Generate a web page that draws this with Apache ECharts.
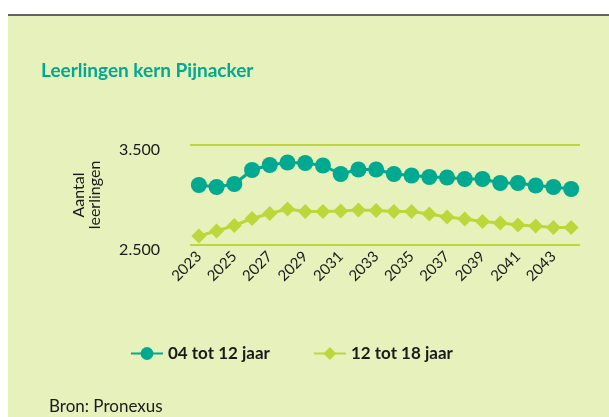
<!DOCTYPE html>
<html>
<head>
<meta charset="utf-8">
<script src="https://cdn.jsdelivr.net/npm/echarts@6/dist/echarts.min.js"></script>
<style>
  html, body { margin: 0; padding: 0; background: #fff; }
  #chart { width: 609px; height: 417px; }
</style>
</head>
<body>
<div id="chart"></div>
<script>
// jaren 2023 t/m 2044
const years = ['2023','2024','2025','2026','2027','2028','2029','2030','2031','2032','2033',
  '2034','2035','2036','2037','2038','2039','2040','2041','2042','2043','2044']
const basis = [3100,3080,3110,3250,3300,3325,3320,3295,3210,3255,3255,
  3210,3195,3180,3175,3160,3160,3120,3120,3095,3080,3060]
const voortgezet = [2590,2640,2695,2765,2815,2860,2835,2835,2840,2850,2845,
  2835,2835,2810,2780,2760,2735,2720,2700,2690,2675,2675]
const seriesNames = ['04 tot 12 jaar', '12 tot 18 jaar']

const teal = '#00A98F'
const lime = '#BDD73A'
const font = 'Lato, "Open Sans", sans-serif'

const myChart = echarts.init(document.getElementById('chart'))

const option = {
  backgroundColor: '#fff',
  textStyle: { fontFamily: font },
  graphic: [
    { type: 'rect', z: -10, shape: { x: 8, y: 15, width: 601, height: 402 }, style: { fill: '#E6F1BC' } },
    { type: 'line', z: -5, shape: { x1: 8, y1: 15, x2: 609, y2: 15 }, style: { stroke: '#333', lineWidth: 1.5 } },
    { type: 'text', left: 41, top: 61, style: { text: 'Leerlingen kern Pijnacker', fill: teal, font: 'bold 19px ' + font } },
    { type: 'text', left: 49, top: 398, style: { text: 'Bron: Pronexus', fill: '#1a1a1a', font: '17px ' + font } }
  ],
  grid: { left: 190, right: 29, top: 145, bottom: 172, containLabel: false },
  legend: {
    left: 125,
    top: 340,
    itemWidth: 32,
    itemHeight: 16,
    itemGap: 43,
    textStyle: { fontSize: 17, fontWeight: 'bold', color: '#1a1a1a', fontFamily: font },
    data: seriesNames
  },
  xAxis: {
    type: 'category',
    data: years,
    boundaryGap: true,
    axisLine: { show: false },
    axisTick: { show: false },
    axisLabel: { interval: 1, rotate: 45, fontSize: 15, color: '#1a1a1a', margin: 9 }
  },
  yAxis: {
    type: 'value',
    min: 2500,
    max: 3500,
    interval: 1000,
    name: 'Aantal\nleerlingen',
    nameLocation: 'middle',
    nameRotate: 90,
    nameGap: 87,
    nameTextStyle: { fontSize: 16, color: '#1a1a1a', lineHeight: 16 },
    axisLine: { show: false },
    axisTick: { show: false },
    axisLabel: {
      fontSize: 16,
      color: '#1a1a1a',
      margin: 30,
      verticalAlign: 'top',
      lineHeight: 10,
      formatter: v => v.toLocaleString('de-DE')
    },
    splitLine: { lineStyle: { color: lime, width: 2 } }
  },
  series: [
    {
      name: seriesNames[0],
      type: 'line',
      data: basis,
      symbol: 'circle',
      symbolSize: 16,
      showAllSymbol: true,
      lineStyle: { color: teal, width: 3 },
      itemStyle: { color: teal }
    },
    {
      name: seriesNames[1],
      type: 'line',
      data: voortgezet,
      symbol: 'diamond',
      symbolSize: 15,
      showAllSymbol: true,
      lineStyle: { color: lime, width: 3 },
      itemStyle: { color: lime }
    }
  ]
}
myChart.setOption(option)
</script>
</body>
</html>
